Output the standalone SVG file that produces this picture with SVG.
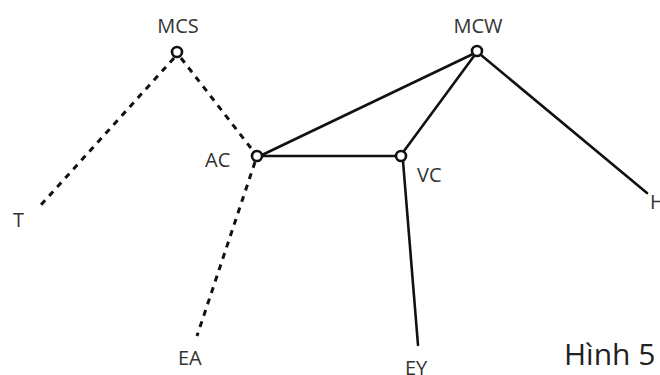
<svg xmlns="http://www.w3.org/2000/svg" width="660" height="375" viewBox="0 0 660 375">
<style>
.lbl{font-family:"Open Sans","Liberation Sans",sans-serif;font-size:20px;fill:#333}
.node{fill:#fff;stroke:#111;stroke-width:2.6}
.solid{stroke:#111;stroke-width:2.6;fill:none;stroke-linecap:round}
.dash{stroke:#111;stroke-width:3;fill:none;stroke-dasharray:6,6}
</style>
<rect width="660" height="375" fill="#fff"/>
<g id="connectors">
<line class="dash" x1="174" y1="58" x2="40" y2="206"/>
<line class="dash" x1="181" y1="58" x2="254" y2="152"/>
<line class="dash" x1="255" y1="162" x2="197" y2="336"/>
<line class="solid" x1="262" y1="155" x2="473" y2="54"/>
<line class="solid" x1="262" y1="156" x2="396" y2="156"/>
<line class="solid" x1="404" y1="151" x2="474" y2="56"/>
<line class="solid" x1="481" y1="55" x2="647" y2="193"/>
<line class="solid" x1="403" y1="161" x2="418" y2="345"/>
</g>
<g id="MCS"><circle class="node" cx="177" cy="52" r="5"/><text class="lbl" x="178" y="33" text-anchor="middle">MCS</text></g>
<g id="MCW"><circle class="node" cx="477" cy="51" r="5"/><text class="lbl" x="478" y="33" text-anchor="middle">MCW</text></g>
<g id="AC"><circle class="node" cx="257" cy="156" r="5"/><text class="lbl" x="205" y="167">AC</text></g>
<g id="VC"><circle class="node" cx="401" cy="156" r="5"/><text class="lbl" x="417" y="182">VC</text></g>
<g id="T"><text class="lbl" x="13" y="227">T</text></g>
<g id="EA"><text class="lbl" x="178" y="365">EA</text></g>
<g id="EY"><text class="lbl" x="405" y="375">EY</text></g>
<g id="H"><text class="lbl" x="650" y="209">H</text></g>
<text x="564" y="365" style="font-family:'Open Sans','Liberation Sans',sans-serif;font-size:30px;fill:#222">Hình 5</text>
</svg>
